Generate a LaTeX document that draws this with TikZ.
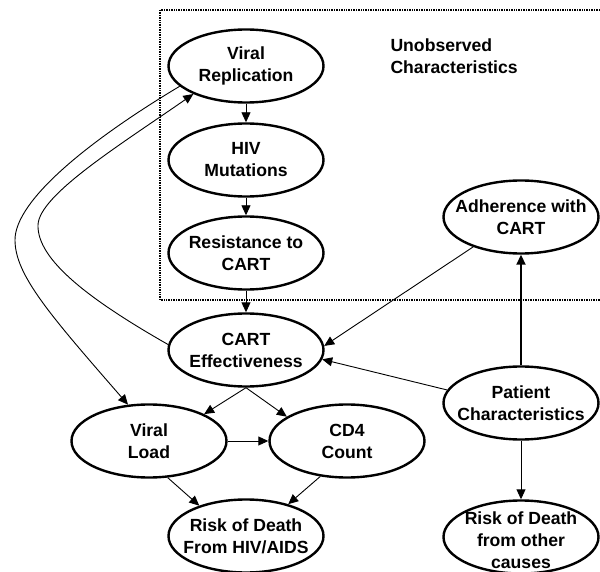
\documentclass[tikz,border=0pt]{standalone}
\usepackage{fontspec}
\setmainfont{Liberation Sans}
\usepackage{tikz}
\usetikzlibrary{arrows.meta}
\usetikzlibrary{shapes}

\tikzset{
  oval/.style={draw, ellipse, line width=2.4pt, minimum width=155pt, minimum height=73pt, inner sep=0pt},
  txt/.style={align=center, font=\bfseries\fontsize{17.6}{22}\selectfont},
  arr/.style={-{Triangle[length=10pt,width=9pt]}, line width=0.9pt},
  dotbox/.style={line width=2pt, dash pattern=on 1pt off 0.7pt}
}

\begin{document}
\begin{tikzpicture}[x=1pt,y=-1pt]
      \useasboundingbox (0,0) rectangle (600,572);
      \draw[dotbox] (160,10) rectangle (606,300);
      \node[txt, align=left, anchor=west] (unobs) at (387,56) {Unobserved\\Characteristics};
      % ovals
      \node[oval, label={[txt]center:Viral\\Replication}]        (vrep)    at (246, 66) {};
      \node[oval, label={[txt]center:HIV\\Mutations}]            (hivm)    at (246,160) {};
      \node[oval, label={[txt]center:Resistance to\\CART}]       (resist)  at (246,253) {};
      \node[oval, label={[txt]center:CART\\Effectiveness}]       (carteff) at (246,350) {};
      \node[oval, label={[txt]center:Viral\\Load}]               (vload)   at (149,441) {};
      \node[oval, label={[txt]center:CD4\\Count}]                (cdfour)  at (347,441) {};
      \node[oval, label={[txt]center:Risk of Death\\From HIV/AIDS}] (riskhiv) at (246,536) {};
      \node[oval, label={[txt]center:Adherence with\\CART}]      (adher)   at (521,217) {};
      \node[oval, label={[txt]center:Patient\\Characteristics}]  (patient) at (521,403) {};
      \node[oval, label={[txt,yshift=-3pt]center:Risk of Death\\from other\\causes}] (riskoth) at (521,537) {};
      % arrows
      \draw[arr] (vrep) -- (hivm);
      \draw[arr] (hivm) -- (resist);
      \draw[arr] (resist) -- (carteff);
      \draw[arr] (carteff.south) -- (vload.26);
      \draw[arr] (carteff.south) -- (cdfour.158);
      \draw[arr] (vload.east) -- (cdfour.west);
      \draw[arr] (vload.297) -- (riskhiv.147);
      \draw[arr] (cdfour.233) -- (riskhiv.37);
      \draw[arr] (adher.212) -- (carteff.3);
      \draw[arr] (patient.170) -- (carteff.-7);
      \draw[arr, line width=1.8pt] (patient) -- (adher);
      \draw[arr] (patient) -- (riskoth);
      \draw[arr] (vrep.197) .. controls (90,140) and (15,200) .. (15,240)
                 .. controls (15,275) and (50,315) .. (vload.120);
      \draw[arr] (carteff.176) .. controls (90,300) and (37,260) .. (38,225)
                 .. controls (39,195) and (120,145) .. (vrep.208);
\end{tikzpicture}
\end{document}
